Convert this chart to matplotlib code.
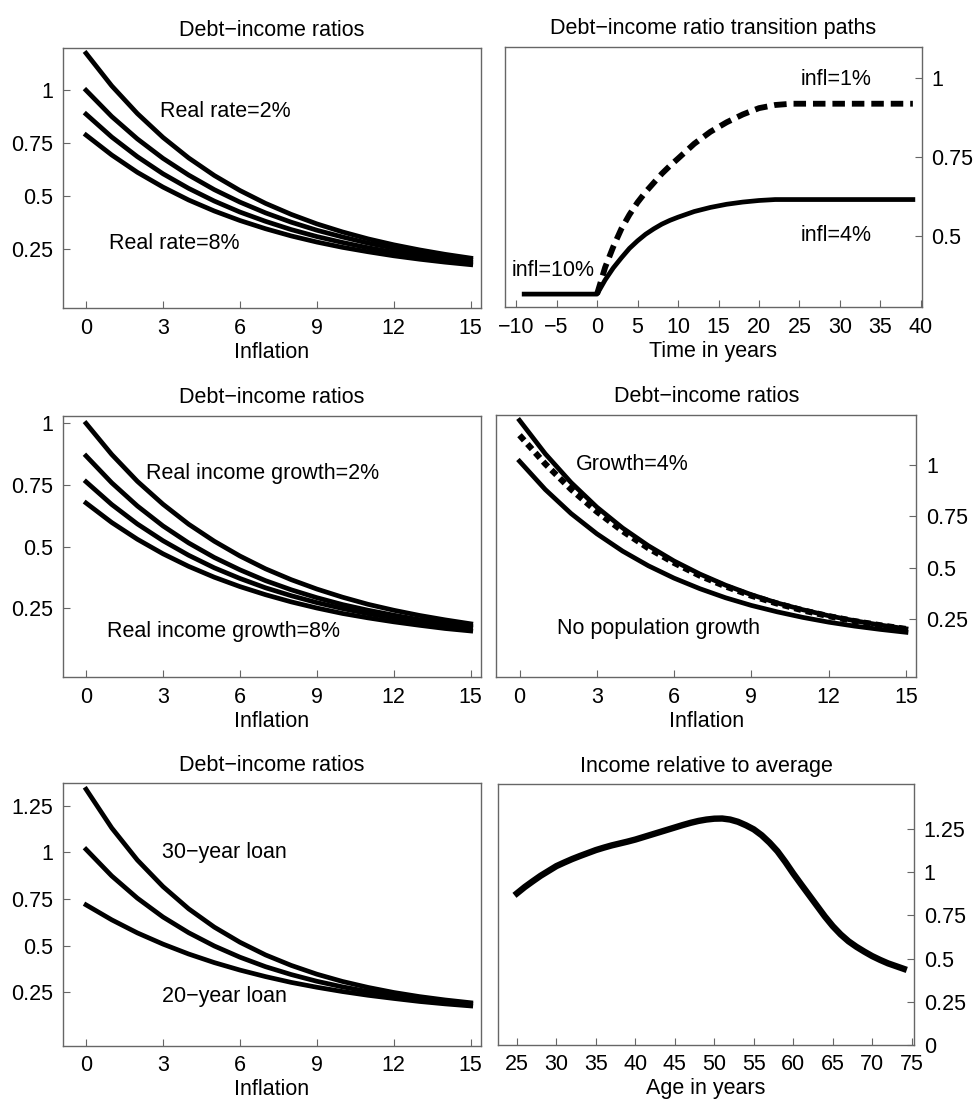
import matplotlib
matplotlib.use("Agg")
import matplotlib.pyplot as plt

plt.rcParams['font.family'] = ['Liberation Sans', 'DejaVu Sans']
plt.rcParams['font.size'] = 15.5
plt.rcParams['lines.scale_dashes'] = False

# ---- data ----
infl = list(range(16))

# panel 1: real rate 2%, 4%, 6%, 8%
rate_2 = [1.175, 1.021, 0.890, 0.777, 0.680, 0.597, 0.526, 0.465, 0.413, 0.368, 0.330, 0.297, 0.269, 0.245, 0.224, 0.206]
rate_4 = [1.000, 0.876, 0.770, 0.678, 0.599, 0.530, 0.471, 0.420, 0.376, 0.338, 0.306, 0.277, 0.253, 0.232, 0.214, 0.198]
rate_6 = [0.887, 0.779, 0.686, 0.605, 0.536, 0.476, 0.424, 0.380, 0.341, 0.308, 0.280, 0.255, 0.234, 0.215, 0.200, 0.186]
rate_8 = [0.788, 0.694, 0.612, 0.542, 0.481, 0.429, 0.384, 0.345, 0.311, 0.282, 0.257, 0.236, 0.217, 0.201, 0.187, 0.175]

# panel 2: transition paths (infl 10% -> 4% solid, 10% -> 1% dashed)
years = [-9, 0, 1, 2, 3, 4, 5, 6, 7, 8, 9, 10, 12, 14, 16, 18, 20, 22, 24, 39]
path_4 = [0.315, 0.315, 0.360, 0.398, 0.430, 0.460, 0.484, 0.505, 0.522, 0.537, 0.549, 0.559, 0.577, 0.590, 0.600, 0.607, 0.612, 0.615, 0.615, 0.615]
path_1 = [0.315, 0.315, 0.400, 0.465, 0.522, 0.567, 0.606, 0.639, 0.668, 0.697, 0.722, 0.745, 0.792, 0.830, 0.860, 0.885, 0.905, 0.915, 0.919, 0.919]

# panel 3: real income growth 2%, 4%, 6%, 8%
gr_2 = [1.000, 0.874, 0.765, 0.672, 0.591, 0.522, 0.462, 0.410, 0.366, 0.328, 0.295, 0.266, 0.242, 0.221, 0.203, 0.187]
gr_4 = [0.868, 0.759, 0.665, 0.584, 0.515, 0.456, 0.406, 0.362, 0.325, 0.293, 0.265, 0.242, 0.222, 0.204, 0.189, 0.177]
gr_6 = [0.763, 0.671, 0.592, 0.524, 0.465, 0.414, 0.371, 0.333, 0.301, 0.273, 0.249, 0.228, 0.211, 0.195, 0.182, 0.171]
gr_8 = [0.677, 0.598, 0.530, 0.471, 0.420, 0.376, 0.338, 0.305, 0.276, 0.251, 0.229, 0.211, 0.195, 0.181, 0.168, 0.158]

# panel 4: population growth
pop_top = [1.214, 1.052, 0.913, 0.794, 0.693, 0.607, 0.533, 0.470, 0.416, 0.370, 0.330, 0.297, 0.268, 0.244, 0.223, 0.205]
pop_dash = [1.142, 1.003, 0.880, 0.772, 0.678, 0.595, 0.524, 0.462, 0.410, 0.365, 0.327, 0.294, 0.266, 0.242, 0.222, 0.204]
pop_none = [1.016, 0.879, 0.763, 0.665, 0.581, 0.510, 0.450, 0.399, 0.355, 0.318, 0.287, 0.260, 0.237, 0.218, 0.202, 0.188]

# panel 5: loan length
loan_30 = [1.338, 1.131, 0.959, 0.817, 0.698, 0.600, 0.519, 0.451, 0.395, 0.348, 0.309, 0.277, 0.250, 0.228, 0.210, 0.195]
loan_25 = [1.016, 0.874, 0.755, 0.654, 0.570, 0.499, 0.439, 0.388, 0.346, 0.310, 0.280, 0.255, 0.233, 0.215, 0.200, 0.188]
loan_20 = [0.719, 0.639, 0.569, 0.509, 0.456, 0.410, 0.370, 0.335, 0.304, 0.278, 0.255, 0.235, 0.218, 0.202, 0.189, 0.178]

# panel 6: income profile by age
age = list(range(25, 75))
income = [0.878, 0.915, 0.948, 0.980, 1.008, 1.036, 1.057, 1.077, 1.095, 1.112,
          1.129, 1.143, 1.156, 1.167, 1.178, 1.190, 1.204, 1.218, 1.232, 1.246,
          1.260, 1.274, 1.287, 1.298, 1.306, 1.311, 1.312, 1.306, 1.293, 1.273,
          1.249, 1.215, 1.172, 1.122, 1.060, 0.993, 0.930, 0.868, 0.806, 0.744,
          0.688, 0.640, 0.600, 0.568, 0.540, 0.514, 0.492, 0.472, 0.456, 0.440]

fig = plt.figure(figsize=(9.78, 11.06), dpi=100)

rects = [
    [0.0644, 0.7215, 0.4274, 0.2351],
    [0.5161, 0.7224, 0.4264, 0.2354],
    [0.0644, 0.3876, 0.4274, 0.2363],
    [0.5075, 0.3876, 0.4294, 0.2372],
    [0.0644, 0.0545, 0.4274, 0.2373],
    [0.5092, 0.0554, 0.4254, 0.2354],
]
axes = [fig.add_axes(r) for r in rects]

LW = 3.4
for i, ax in enumerate(axes):
    for sp in ax.spines.values():
        sp.set_color('0.4')
        sp.set_linewidth(1.0)
    ax.tick_params(direction='in', length=5, color='0.4', labelsize=15.5, pad=7)
    if i % 2 == 1:
        ax.yaxis.tick_right()
        ax.tick_params(axis='y', left=False, right=True)

def fmt(vals):
    return [('%g' % v) for v in vals]

# panel 1
ax = axes[0]
for s in (rate_2, rate_4, rate_6, rate_8):
    ax.plot(infl, s, color='black', lw=LW)
ax.set_xlim(-0.9, 15.4)
ax.set_ylim(-0.03, 1.2)
ax.set_xticks([0, 3, 6, 9, 12, 15])
ax.set_yticks([0.25, 0.5, 0.75, 1])
ax.set_yticklabels(fmt([0.25, 0.5, 0.75, 1]))
ax.set_title('Debt\u2212income ratios', fontsize=15.5, pad=9)
ax.set_xlabel('Inflation', labelpad=2)
ax.text(2.88, 0.90, 'Real rate=2%', va='center', ha='left')
ax.text(0.9, 0.274, 'Real rate=8%', va='center', ha='left')

# panel 2
ax = axes[1]
ax.plot(years[1:], path_1[1:], color='black', lw=4.2, dashes=(9, 5))
ax.plot(years, path_4, color='black', lw=LW)
ax.set_xlim(-11.4, 40.1)
ax.set_ylim(0.274, 1.1)
ax.set_xticks(list(range(-10, 41, 5)))
ax.set_yticks([0.5, 0.75, 1])
ax.set_yticklabels(fmt([0.5, 0.75, 1]))
ax.set_title('Debt\u2212income ratio transition paths', fontsize=15.5, pad=9)
ax.set_xlabel('Time in years', labelpad=2)
ax.text(25.2, 0.996, 'infl=1%', va='center', ha='left')
ax.text(25.2, 0.50, 'infl=4%', va='center', ha='left')
ax.text(-10.5, 0.389, 'infl=10%', va='center', ha='left')

# panel 3
ax = axes[2]
for s in (gr_2, gr_4, gr_6, gr_8):
    ax.plot(infl, s, color='black', lw=LW)
ax.set_xlim(-0.9, 15.4)
ax.set_ylim(-0.03, 1.03)
ax.set_xticks([0, 3, 6, 9, 12, 15])
ax.set_yticks([0.25, 0.5, 0.75, 1])
ax.set_yticklabels(fmt([0.25, 0.5, 0.75, 1]))
ax.set_title('Debt\u2212income ratios', fontsize=15.5, pad=9)
ax.set_xlabel('Inflation', labelpad=2)
ax.text(2.32, 0.795, 'Real income growth=2%', va='center', ha='left')
ax.text(0.8, 0.157, 'Real income growth=8%', va='center', ha='left')

# panel 4
ax = axes[3]
ax.plot(infl, pop_top, color='black', lw=LW)
ax.plot(infl, pop_dash, color='black', lw=4.4, dashes=(5, 3.5))
ax.plot(infl, pop_none, color='black', lw=LW)
ax.set_xlim(-0.9, 15.4)
ax.set_ylim(-0.03, 1.24)
ax.set_xticks([0, 3, 6, 9, 12, 15])
ax.set_yticks([0.25, 0.5, 0.75, 1])
ax.set_yticklabels(fmt([0.25, 0.5, 0.75, 1]))
ax.set_title('Debt\u2212income ratios', fontsize=15.5, pad=9)
ax.set_xlabel('Inflation', labelpad=2)
ax.text(2.2, 1.0, 'Growth=4%', va='center', ha='left')
ax.text(1.46, 0.208, 'No population growth', va='center', ha='left')

# panel 5
ax = axes[4]
for s in (loan_30, loan_25, loan_20):
    ax.plot(infl, s, color='black', lw=LW)
ax.set_xlim(-0.9, 15.4)
ax.set_ylim(-0.035, 1.37)
ax.set_xticks([0, 3, 6, 9, 12, 15])
ax.set_yticks([0.25, 0.5, 0.75, 1, 1.25])
ax.set_yticklabels(fmt([0.25, 0.5, 0.75, 1, 1.25]))
ax.set_title('Debt\u2212income ratios', fontsize=15.5, pad=9)
ax.set_xlabel('Inflation', labelpad=2)
ax.text(2.97, 1.0, '30\u2212year loan', va='center', ha='left')
ax.text(2.97, 0.227, '20\u2212year loan', va='center', ha='left')

# panel 6
ax = axes[5]
ax.plot(age, income, color='black', lw=4.6, solid_joinstyle='round')
ax.set_xlim(22.6, 75.3)
ax.set_ylim(0, 1.51)
ax.set_xticks(list(range(25, 76, 5)))
ax.set_yticks([0, 0.25, 0.5, 0.75, 1, 1.25])
ax.set_yticklabels(fmt([0, 0.25, 0.5, 0.75, 1, 1.25]))
ax.set_title('Income relative to average', fontsize=15.5, pad=9)
ax.set_xlabel('Age in years', labelpad=2)

fig.savefig('out.png', dpi=100)
